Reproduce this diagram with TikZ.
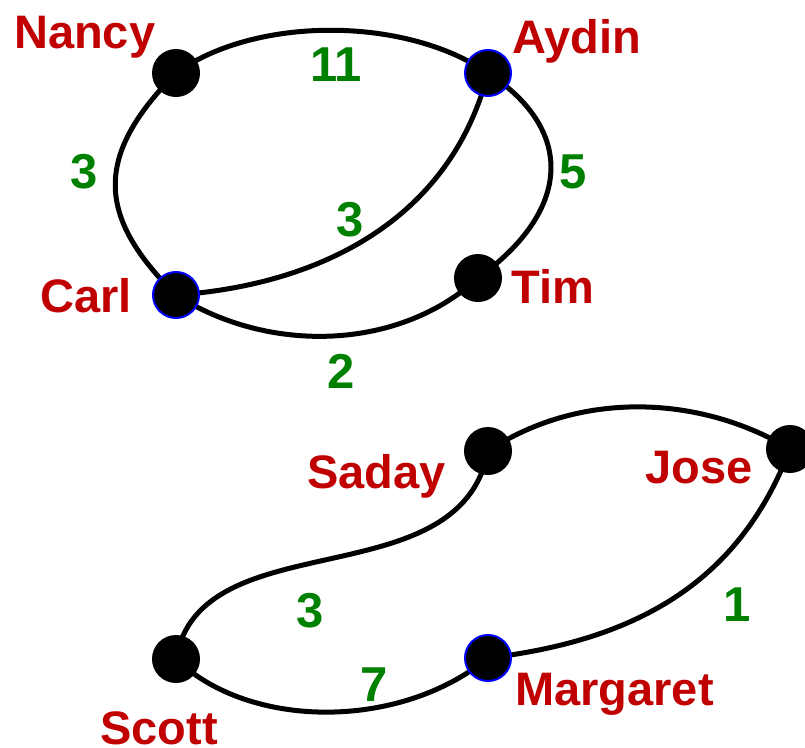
\documentclass[tikz,border=0pt]{standalone}
\usepackage{fontspec}
\setmainfont{Liberation Sans}
\usetikzlibrary{backgrounds}
\definecolor{namered}{RGB}{192,0,0}
\definecolor{wgreen}{RGB}{0,128,0}
\tikzset{
  vert/.style={circle,fill=black,inner sep=0pt,minimum size=48pt},
  vertblue/.style={vert,draw=blue,line width=2pt,minimum size=46pt},
  nm/.style={anchor=base west,inner sep=0pt,text=namered,font=\fontsize{47}{47}\selectfont\bfseries},
  wt/.style={anchor=base,inner sep=0pt,text=wgreen,font=\fontsize{49}{49}\selectfont\bfseries},
  edge/.style={line width=5pt}
}
\begin{document}
\begin{tikzpicture}[x=1pt,y=-1pt]
\useasboundingbox (0,0) rectangle (805,747);
% vertices
\node[vert] (nancy) at (176,73) {};
\node[vertblue] (aydin) at (488,73) {};
\node[vertblue] (carl) at (176,295) {};
\node[vert] (tim) at (478,278) {};
\node[vert] (saday) at (488,451) {};
\node[vert] (jose) at (790,449) {};
\node[vert] (scott) at (176,659) {};
\node[vertblue] (margaret) at (488,658) {};
% edges
\begin{scope}[on background layer]
\draw[edge] (nancy.center) .. controls (255,16) and (405,16) .. (aydin.center);
\draw[edge] (nancy.center) .. controls (95,155) and (95,215) .. (carl.center);
\draw[edge] (carl.center) .. controls (320,285) and (450,220) .. (aydin.center);
\draw[edge] (aydin.center) .. controls (575,130) and (572,210) .. (tim.center);
\draw[edge] (carl.center) .. controls (270,355) and (400,350) .. (tim.center);
\draw[edge] (saday.center) .. controls (580,390) and (700,395) .. (jose.center);
\draw[edge] (saday.center) .. controls (460,600) and (200,520) .. (scott.center);
\draw[edge] (margaret.center) .. controls (640,640) and (740,580) .. (jose.center);
\draw[edge] (scott.center) .. controls (250,730) and (400,730) .. (margaret.center);
\end{scope}
% names
\node[nm] (lnancy) at (14,48) {Nancy};
\node[nm] (laydin) at (512,53) {Aydin};
\node[nm] (lcarl) at (40,312) {Carl};
\node[nm] (ltim) at (511,303) {Tim};
\node[nm] (lsaday) at (307,488) {Saday};
\node[nm] (ljose) at (645,483) {Jose};
\node[nm] (lscott) at (100,744) {Scott};
\node[nm] (lmargaret) at (515,705) {Margaret};
% weights
\node[wt] (w1) at (336,81) {11};
\node[wt] (w2) at (84,188) {3};
\node[wt] (w3) at (350,236) {3};
\node[wt] (w4) at (573,188) {5};
\node[wt] (w5) at (341,388) {2};
\node[wt] (w6) at (310,627) {3};
\node[wt] (w7) at (374,701) {7};
\node[wt] (w8) at (737,621) {1};
\end{tikzpicture}
\end{document}
